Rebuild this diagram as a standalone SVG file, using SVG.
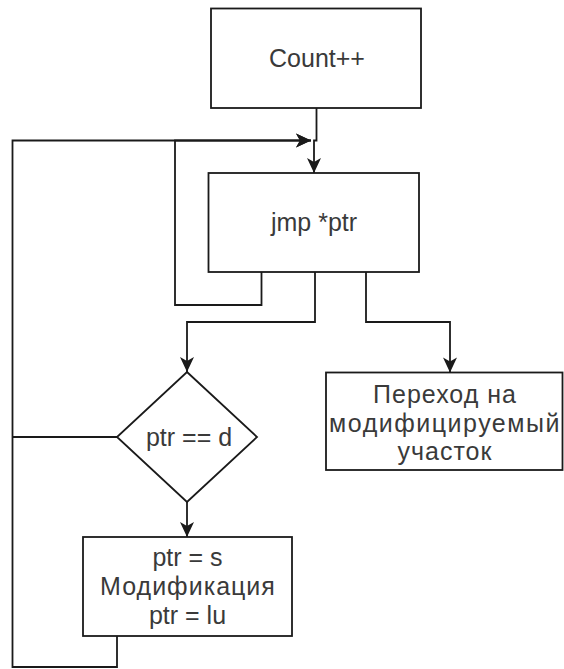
<svg xmlns="http://www.w3.org/2000/svg" width="564" height="669" viewBox="0 0 564 669">
<style>
.n{fill:#fff;stroke:#1a1a1a;stroke-width:1.8}
.c{fill:none;stroke:#1a1a1a;stroke-width:1.8}
.t{font-family:"Liberation Sans",Arial,sans-serif;font-size:25px;fill:#3a3a3a;text-anchor:middle}
.cy{letter-spacing:1px}
</style>
<defs>
<marker id="a" markerUnits="userSpaceOnUse" markerWidth="17" markerHeight="15" viewBox="-16 -7.5 17 15" refX="0" refY="0" orient="auto">
<path d="M-15,-7 L0,0 L-15,7 L-11,0 Z" fill="#1a1a1a"/>
</marker>
</defs>
<rect width="564" height="669" fill="#fff"/>
<g id="connectors">
<path class="c" d="M316.5,108 V140.5 H314 V173" marker-end="url(#a)"/>
<path class="c" d="M261.5,272 V305 H175 V140.5 H311" marker-end="url(#a)"/>
<path class="c" d="M117,636 V667 H12.5 V140.5 H311" marker-end="url(#a)"/>
<path class="c" d="M117,437 H12.5"/>
<path class="c" d="M315,272 V322 H187 V372" marker-end="url(#a)"/>
<path class="c" d="M366,272 V322 H450 V372.5" marker-end="url(#a)"/>
<path class="c" d="M187,502 V537" marker-end="url(#a)"/>
</g>
<g id="count">
<rect class="n" x="211" y="8.5" width="210" height="99.5"/>
<text class="t" x="317" y="66.5">Count++</text>
</g>
<g id="jmp">
<rect class="n" x="208.5" y="173" width="210.5" height="99"/>
<text class="t" x="314" y="231">jmp *ptr</text>
</g>
<g id="decision">
<polygon class="n" points="187,372 257,437 187,502 117,437"/>
<text class="t" x="189" y="446">ptr == d</text>
</g>
<g id="modify">
<rect class="n" x="83" y="537" width="209" height="99"/>
<text class="t" x="187.5" y="566">ptr = s</text>
<text class="t cy" x="188" y="595">Модификация</text>
<text class="t" x="187.5" y="624">ptr = lu</text>
</g>
<g id="jump-target">
<rect class="n" x="326" y="372.5" width="236.5" height="97.5"/>
<text class="t cy" x="445" y="403">Переход на</text>
<text class="t" x="445" y="431.5" style="letter-spacing:1.5px">модифицируемый</text>
<text class="t cy" x="445" y="460">участок</text>
</g>
</svg>
